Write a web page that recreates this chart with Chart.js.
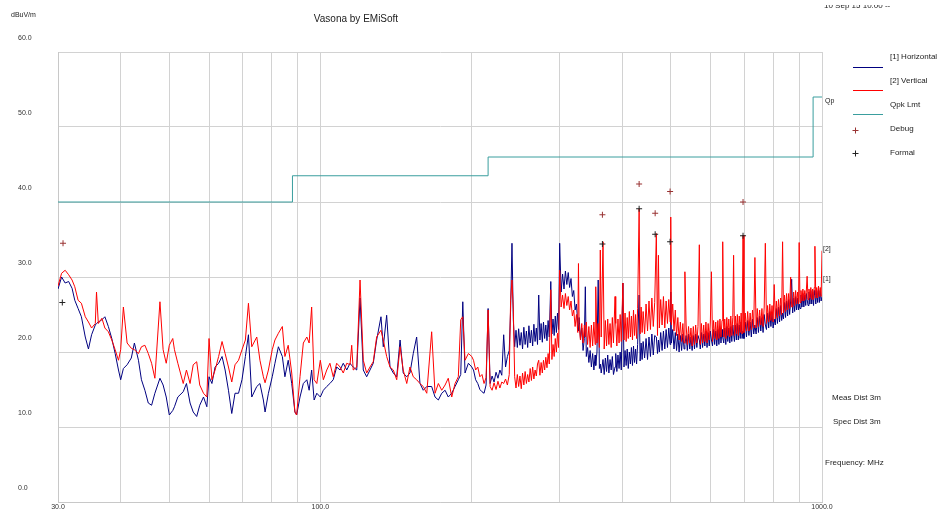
<!DOCTYPE html>
<html>
<head>
<meta charset="utf-8">
<title>Vasona by EMiSoft</title>
<script src="https://cdn.jsdelivr.net/npm/chart.js@4.4.0/dist/chart.umd.min.js"></script>
<style>
  html, body { margin: 0; padding: 0; background: #fff; }
  #wrap { position: relative; width: 938px; height: 512px; }
</style>
</head>
<body>
<div id="wrap"><canvas id="chart" width="938" height="512"></canvas></div>
<script>
// scan data (MHz / dBuV/m)
const freqMHz = [
  30.0, 30.5, 31.0, 31.5, 32.0, 32.4, 32.9, 33.4, 34.0, 34.5,
  35.0, 35.6, 35.8, 36.1, 36.7, 37.2, 37.8, 38.4, 39.0, 39.6,
  40.0, 40.5, 41.2, 42.0, 42.6, 43.4, 44.0, 44.7, 45.4, 46.1,
  46.8, 47.9, 48.6, 49.3, 50.0, 50.8, 51.2, 52.0, 53.3, 54.1,
  55.0, 55.8, 56.7, 57.5, 58.5, 59.4, 60.0, 60.8, 61.7, 62.7,
  63.7, 64.6, 65.6, 66.6, 67.6, 68.7, 69.8, 70.9, 71.9, 73.0,
  74.7, 75.8, 77.0, 77.6, 78.8, 80.2, 81.2, 82.5, 84.0, 85.0,
  86.3, 87.7, 89.0, 89.7, 91.1, 92.5, 94.0, 95.0, 96.1, 97.2,
  98.4, 100.0, 101.4, 103.0, 104.5, 106.1, 107.8, 109.5, 111.1, 112.9,
  114.6, 115.5, 116.3, 118.2, 120.0, 121.8, 123.7, 125.6, 127.5, 129.5,
  132.1, 133.5, 135.6, 137.7, 139.8, 142.0, 144.2, 146.3, 148.7, 150.9,
  153.2, 155.6, 158.0, 160.4, 163.0, 166.7, 169.3, 171.9, 174.6, 177.3,
  179.9, 182.8, 185.6, 188.4, 190.5, 192.3, 194.3, 197.3, 200.4,
  202, 204, 206, 208, 210, 212, 214, 216, 218, 220,
  222, 224, 226, 228, 230, 232, 234, 236, 238, 239.5,
  241, 242.5,
  244, 245.5, 247, 248.5, 250, 251.5, 253, 254.5, 256, 257.5,
  259, 260.5, 262, 263.5, 265, 266.5, 268, 269.5, 271, 272.5,
  274, 275.5, 277, 278.5, 280, 281.5, 283, 284.5, 286, 288,
  289.5, 291, 292.5, 294, 295.5, 297, 298.5,
  300, 302, 304, 306, 308, 310, 312, 314, 316, 318,
  320, 322, 324, 326, 327, 328, 330, 332, 334, 336,
  337.5, 339, 341, 343, 345, 347, 349, 351, 353, 354,
  356, 358, 360, 361.5, 363, 366, 368, 370, 372, 374,
  376, 378, 380, 382, 384, 386.8, 388, 390, 392, 394,
  396, 398, 401, 403, 405, 407, 409, 411, 413, 415,
  417, 419, 421, 423, 425, 427, 429, 432, 434, 436,
  438, 440,
  443, 446, 449, 452, 455, 458, 461, 464, 467.5, 470,
  472, 474, 477, 480, 483, 486, 489, 492, 495, 498,
  499.5, 501, 504, 507, 510, 513, 516, 519, 522, 525,
  528, 531, 533, 536, 539, 542, 545, 548, 551, 554,
  557, 560, 563, 566, 569.5, 572, 575, 578, 581, 584,
  587, 590, 593, 596, 599, 602, 605, 608, 611, 614,
  617, 620, 623, 626, 629, 632, 634, 637, 640, 643,
  646, 649, 652, 655, 658, 661, 664, 666.5, 669, 672,
  675, 678, 681, 684, 687, 690, 693, 696, 699,
  703, 707, 711, 715, 719, 723, 727, 731, 735, 739,
  743, 747, 751, 755, 759, 763, 767, 771, 775, 779,
  783, 787, 791, 795, 799, 803, 807, 811, 815, 819,
  823, 827, 831, 834.5, 838, 842, 846, 850, 854, 858,
  862, 866, 870, 874, 878, 882, 886, 890, 894, 898,
  900.5, 904, 908, 912, 916, 920, 924, 928, 931, 934,
  938, 942, 946, 950, 954, 958, 962, 965, 968, 972,
  976, 980, 984, 988, 992, 996, 1000
];

const horizontalLevel = [
  28.4, 30.0, 29.2, 29.4, 28.5, 26.9, 25.8, 24.7, 22.0, 20.4,
  22.3, 23.6, 23.8, 24.0, 24.3, 24.7, 23.4, 21.8, 19.8, 17.6,
  16.3, 17.8, 18.3, 19.2, 21.2, 18.9, 16.3, 14.9, 13.2, 12.9,
  14.5, 16.5, 15.6, 14.0, 11.6, 12.2, 12.7, 14.0, 14.7, 15.8,
  13.2, 12.0, 11.4, 12.9, 14.0, 12.7, 16.7, 15.8, 18.0, 18.5,
  19.4, 17.6, 14.9, 11.8, 14.5, 14.5, 16.3, 19.4, 22.3, 14.0,
  15.4, 15.8, 13.6, 12.0, 14.5, 16.7, 18.5, 20.7, 19.4, 16.7,
  18.9, 15.8, 12.0, 11.6, 14.0, 15.8, 16.3, 14.9, 17.6, 13.6,
  14.5, 14.0, 14.9, 15.4, 15.8, 16.3, 18.0, 17.6, 18.5, 17.6,
  18.5, 18.2, 18.0, 17.6, 27.2, 17.6, 16.7, 17.6, 18.5, 21.6,
  24.7, 20.7, 24.9, 18.0, 17.2, 16.7, 21.6, 17.2, 16.7, 17.2,
  19.8, 22.0, 15.8, 14.9, 15.4, 15.4, 14.0, 13.6, 14.5, 14.9,
  14.0, 14.5, 15.4, 16.3, 17.0, 26.7, 17.2, 18.5, 18.0,
  17.6, 16.3, 15.8, 15.0, 14.7, 14.5, 15.6, 25.8, 15.8, 16.8,
  16.0, 17.3, 16.5, 17.6, 16.9, 22.3, 18.0, 19.4, 20.2, 25.6,
  34.5, 24.3,
  20.7, 22.9, 20.6, 23.1, 20.9, 22.6, 20.4, 23.3, 21.0, 22.8,
  20.6, 23.5, 21.2, 22.9, 20.8, 23.7, 21.4, 23.2, 21.0, 27.6,
  21.6, 23.8, 21.3, 24.0, 21.8, 23.6, 21.5, 24.2, 22.0, 29.4,
  22.4, 24.4, 22.2, 24.8, 22.6, 25.2, 23.0,
  34.5, 28.0, 30.4, 28.4, 30.8, 29.0, 30.6, 28.6, 29.8, 27.4,
  28.2, 25.6, 26.4, 23.8, 22.8, 24.6, 21.8, 23.2, 20.2, 21.8,
  28.7, 19.4, 20.6, 18.6, 20.2, 18.0, 19.8, 17.6, 19.6, 18.2,
  20.0, 29.6, 17.8, 18.4, 17.2, 19.0, 17.0, 19.2, 17.4, 19.6,
  17.2, 19.0, 17.6, 19.4, 17.0, 18.0, 19.8, 17.4, 19.6, 17.8,
  20.0, 17.6, 29.2, 18.0, 20.2, 18.2, 20.4, 17.8, 20.0, 18.4,
  20.6, 18.2, 20.8, 18.6, 20.4, 18.4, 21.0, 27.6, 18.8, 21.2,
  19.0, 21.4,
  19.2, 21.8, 19.0, 22.0, 19.4, 22.4, 19.6, 22.2, 22.0, 19.8,
  21.6, 20.0, 22.6, 20.2, 22.8, 20.4, 23.0, 20.6, 23.2, 21.0,
  28.0, 21.2, 23.0, 20.4, 22.6, 20.2, 22.4, 20.0, 22.2, 20.2,
  22.4, 20.4, 21.0, 22.2, 20.2, 22.4, 20.4, 22.0, 20.2, 22.2,
  20.4, 22.4, 20.6, 22.2, 21.6, 20.4, 22.6, 20.6, 22.4, 20.8,
  22.8, 20.6, 22.6, 20.8, 22.8, 21.6, 20.8, 23.0, 21.0, 22.8,
  20.8, 23.0, 21.0, 23.2, 21.2, 23.0, 22.0, 21.2, 23.2, 21.0,
  23.4, 21.4, 23.2, 21.2, 23.4, 21.4, 23.6, 22.4, 21.4, 23.6,
  21.6, 23.8, 21.6, 23.6, 21.8, 24.0, 21.8, 22.8, 21.8,
  24.0, 22.0, 24.2, 22.2, 24.0, 22.0, 24.4, 22.4, 23.6, 22.4,
  24.6, 22.6, 24.8, 22.8, 24.6, 22.6, 25.0, 23.6, 23.0, 25.2,
  23.2, 25.4, 23.4, 25.2, 23.2, 24.4, 23.6, 25.8, 23.8, 26.0,
  24.0, 26.2, 24.2, 25.2, 24.4, 26.6, 24.6, 26.8, 24.8, 27.0,
  25.0, 26.8, 29.7, 25.2, 27.2, 25.4, 27.4, 25.6, 27.2, 25.6,
  26.4, 25.8, 27.6, 26.0, 27.8, 26.0, 27.6, 26.2, 27.8, 27.0,
  26.2, 28.0, 26.4, 28.2, 26.4, 28.0, 26.2, 28.2, 27.6, 26.4,
  28.2, 26.6, 28.4, 26.6, 28.2, 26.8, 27.4
];

const verticalLevel = [
  28.8, 30.5, 30.9, 30.3, 29.6, 28.7, 26.9, 26.5, 24.7, 24.0,
  23.2, 23.8, 28.0, 23.8, 24.5, 23.2, 22.7, 21.6, 20.3, 18.9,
  20.3, 26.0, 21.2, 20.5, 20.3, 19.8, 20.7, 20.9, 19.8, 18.5,
  16.5, 26.7, 20.3, 18.5, 20.9, 21.8, 20.3, 18.5, 15.8, 17.6,
  15.8, 18.3, 18.7, 15.6, 14.5, 14.0, 21.8, 16.3, 17.6, 19.4,
  21.4, 19.8, 18.0, 16.0, 18.3, 18.9, 20.3, 21.6, 26.5, 20.7,
  22.0, 18.9, 16.7, 15.9, 17.6, 20.3, 21.6, 22.5, 23.4, 19.4,
  20.9, 17.2, 12.0, 11.6, 16.7, 21.2, 22.0, 21.2, 26.0, 16.3,
  15.8, 18.9, 16.3, 17.6, 18.5, 16.7, 18.5, 18.0, 17.2, 18.5,
  18.3, 20.9, 17.6, 18.0, 29.6, 18.9, 17.2, 18.0, 18.7, 22.0,
  22.9, 21.6, 19.4, 18.0, 17.6, 16.3, 20.7, 17.6, 15.8, 18.0,
  16.7, 16.3, 15.8, 15.4, 14.5, 22.7, 14.5, 15.8, 14.9, 15.6,
  16.5, 14.0, 15.8, 16.7, 24.3, 24.7, 18.9, 19.8, 19.4,
  18.9, 17.6, 18.0, 16.7, 17.0, 15.8, 16.6, 25.6, 15.4, 14.9,
  15.9, 15.0, 16.1, 15.2, 16.0, 15.8, 16.4, 15.6, 17.0, 26.9,
  29.6, 25.6,
  16.7, 15.2, 17.0, 15.4, 16.8, 15.1, 17.2, 15.6, 17.4, 15.8,
  17.0, 16.0, 17.8, 16.2, 18.0, 16.4, 17.6, 16.8, 18.4, 18.9,
  16.9, 18.6, 17.2, 18.9, 17.6, 19.3, 17.9, 19.8, 18.4, 28.3,
  19.0, 21.0, 19.4, 21.8, 20.0, 22.5, 20.6,
  30.9, 26.0, 27.6, 25.8, 27.8, 26.2, 27.4, 25.6, 26.8, 24.8,
  25.6, 23.4, 25.0, 22.6, 31.8, 23.8, 21.6, 23.8, 21.2, 23.6,
  22.0, 24.0, 21.0, 23.4, 20.6, 23.6, 20.8, 24.0, 21.0, 28.7,
  21.2, 23.8, 20.6, 33.6, 22.0, 34.7, 20.4, 24.2, 20.8, 24.4,
  21.0, 23.8, 20.6, 24.6, 21.2, 27.4, 23.8, 20.8, 24.4, 21.2,
  25.0, 21.4, 29.2, 21.6, 25.2, 21.4, 24.6, 21.8, 25.4, 22.0,
  24.8, 21.6, 25.6, 22.2, 25.0, 21.8, 25.8, 39.1, 22.4, 26.0,
  22.6, 25.4,
  22.4, 26.4, 22.8, 26.8, 23.0, 27.2, 23.4, 26.6, 35.8, 22.2,
  32.9, 23.2, 27.0, 23.6, 27.4, 23.2, 26.8, 23.8, 27.0, 24.0,
  38.0, 23.6, 26.4, 22.8, 25.6, 22.2, 24.6, 21.6, 24.0, 21.4,
  23.8, 21.2, 30.7, 23.6, 21.0, 23.4, 21.2, 23.2, 20.8, 23.4,
  21.0, 23.6, 21.2, 23.4, 34.3, 21.0, 23.8, 21.2, 23.6, 21.4,
  24.0, 21.2, 23.8, 21.6, 24.0, 30.7, 21.4, 24.2, 21.8, 24.0,
  21.6, 24.2, 21.8, 24.4, 22.0, 24.2, 34.7, 22.0, 24.4, 21.8,
  24.6, 22.2, 24.4, 22.0, 24.8, 22.2, 24.6, 32.9, 22.2, 24.8,
  22.4, 25.0, 22.2, 24.8, 22.6, 25.2, 22.4, 35.6, 22.6,
  25.2, 22.8, 25.4, 22.8, 25.2, 23.0, 25.6, 23.2, 32.6, 23.2,
  25.8, 23.4, 25.6, 23.6, 25.8, 23.4, 26.0, 34.5, 23.8, 26.2,
  24.0, 26.4, 24.2, 26.2, 24.0, 29.0, 24.4, 26.8, 24.6, 27.0,
  24.8, 27.2, 25.0, 34.7, 25.2, 27.6, 25.4, 27.8, 25.6, 27.8,
  25.8, 30.0, 26.0, 26.0, 28.0, 26.2, 28.2, 26.4, 28.0, 26.4,
  34.6, 26.6, 28.2, 26.8, 28.4, 26.8, 28.2, 27.0, 28.4, 30.1,
  27.0, 28.4, 27.2, 28.6, 27.0, 28.4, 27.0, 28.6, 34.1, 27.2,
  28.6, 27.2, 28.8, 27.4, 28.6, 27.4, 33.5
];

// quasi-peak limit, steps at 88 / 216 / 960 MHz
const limitFreq = [30, 88, 216, 960, 1000];
const limitLevel = [40, 43.5, 46, 54, 54];

const debugFreq = [30.7, 365, 432, 465, 498, 696];
const debugLevel = [34.5, 38.3, 42.4, 38.5, 41.4, 40.0];
const formalFreq = [30.6, 365, 432, 465, 498, 696];
const formalLevel = [26.6, 34.4, 39.1, 35.7, 34.7, 35.5];

const xGridFreq = [30, 40, 50, 60, 70, 80, 90, 100, 200, 300, 400, 500, 600, 700, 800, 900, 1000];
const xLabelFreq = [30, 100, 1000];

const chartTitle = 'Vasona by EMiSoft';
const unitLabel = 'dBuV/m';
const dateLabel = '10 Sep 15 10:00 --';
const legendLabels = ['[1] Horizontal', '[2] Vertical', 'Qpk Lmt', 'Debug', 'Formal'];
const sideNotes = ['Meas Dist 3m', 'Spec Dist 3m', 'Frequency: MHz'];

const NAVY = '#000080';
const RED = '#ff0000';
const TEAL = '#3a9e9e';
const DEBUG_COL = '#993333';
const FORMAL_COL = '#222222';
const FONT = '"Liberation Sans", Arial, sans-serif';

function toPoints(xs, ys) {
  return xs.map((x, i) => ({ x: x, y: ys[i] }));
}

function drawCross(ctx, x, y, r, color) {
  ctx.strokeStyle = color;
  ctx.lineWidth = 1;
  ctx.beginPath();
  ctx.moveTo(x - r, y); ctx.lineTo(x + r, y);
  ctx.moveTo(x, y - r); ctx.lineTo(x, y + r);
  ctx.stroke();
}

const annotations = {
  id: 'annotations',
  afterDraw(chart) {
    const ctx = chart.ctx;
    ctx.save();
    ctx.fillStyle = '#222';
    ctx.textBaseline = 'middle';

    ctx.font = '10px ' + FONT;
    ctx.textAlign = 'center';
    ctx.fillText(chartTitle, 356, 19);

    ctx.font = '7px ' + FONT;
    ctx.textAlign = 'left';
    ctx.fillText(unitLabel, 11, 15);

    // date line is cut off at the top edge in the original
    ctx.save();
    ctx.beginPath();
    ctx.rect(0, 5, 938, 20);
    ctx.clip();
    ctx.font = '8px ' + FONT;
    ctx.fillText(dateLabel, 824, 6);
    ctx.restore();

    // legend
    const textY = [57, 81, 105, 129, 153];
    const symY = [67, 90, 114, 130, 153];
    const lineCols = [NAVY, RED, TEAL];
    ctx.font = '8px ' + FONT;
    legendLabels.forEach((lbl, i) => {
      ctx.fillStyle = '#222';
      ctx.fillText(lbl, 890, textY[i]);
      if (i < 3) {
        ctx.strokeStyle = lineCols[i];
        ctx.lineWidth = 1;
        ctx.beginPath();
        ctx.moveTo(853, symY[i] + 0.5);
        ctx.lineTo(883, symY[i] + 0.5);
        ctx.stroke();
      } else {
        drawCross(ctx, 855.5, symY[i] + 0.5, 3, i === 3 ? DEBUG_COL : FORMAL_COL);
      }
    });

    // trace tags on the right edge
    ctx.fillStyle = '#222';
    ctx.font = '7px ' + FONT;
    ctx.fillText('Qp', 825, 101);
    ctx.fillText('[2]', 823, 249);
    ctx.fillText('[1]', 823, 279);

    ctx.font = '8px ' + FONT;
    ctx.fillText(sideNotes[0], 832, 398);
    ctx.fillText(sideNotes[1], 833, 422);
    ctx.fillText(sideNotes[2], 825, 463);
    ctx.restore();
  }
};

const ctx = document.getElementById('chart').getContext('2d');
new Chart(ctx, {
  type: 'line',
  data: {
    datasets: [
      {
        label: 'Qpk Lmt',
        data: toPoints(limitFreq, limitLevel),
        borderColor: TEAL,
        borderWidth: 1,
        pointRadius: 0,
        stepped: 'before',
        order: 0
      },
      {
        label: 'Debug',
        data: toPoints(debugFreq, debugLevel),
        showLine: false,
        pointStyle: 'cross',
        pointRadius: 3,
        pointBorderWidth: 1,
        pointBorderColor: DEBUG_COL,
        borderColor: DEBUG_COL,
        order: 0
      },
      {
        label: 'Formal',
        data: toPoints(formalFreq, formalLevel),
        showLine: false,
        pointStyle: 'cross',
        pointRadius: 3,
        pointBorderWidth: 1,
        pointBorderColor: FORMAL_COL,
        borderColor: FORMAL_COL,
        order: 0
      },
      {
        label: '[2] Vertical',
        data: toPoints(freqMHz, verticalLevel),
        borderColor: RED,
        borderWidth: 1,
        pointRadius: 0,
        tension: 0,
        order: 1
      },
      {
        label: '[1] Horizontal',
        data: toPoints(freqMHz, horizontalLevel),
        borderColor: NAVY,
        borderWidth: 1,
        pointRadius: 0,
        tension: 0,
        order: 2
      }
    ]
  },
  options: {
    responsive: false,
    animation: false,
    devicePixelRatio: 1,
    layout: { padding: { left: 18, top: 52, right: 116, bottom: 0 } },
    plugins: {
      legend: { display: false },
      tooltip: { enabled: false }
    },
    scales: {
      x: {
        type: 'logarithmic',
        min: 30,
        max: 1000,
        afterBuildTicks: (scale) => {
          scale.ticks = xGridFreq.map(v => ({ value: v }));
        },
        afterFit: (scale) => { scale.height = 10; },
        ticks: {
          autoSkip: false,
          maxRotation: 0,
          padding: 1,
          color: '#333',
          font: { size: 7, family: FONT },
          callback: (v) => xLabelFreq.includes(v) ? Number(v).toFixed(1) : ''
        },
        grid: { color: '#d2d2d2', drawTicks: false },
        border: { color: '#c8c8c8' }
      },
      y: {
        min: 0,
        max: 60,
        afterFit: (scale) => { scale.width = 40; },
        ticks: {
          stepSize: 10,
          labelOffset: -14,
          crossAlign: 'far',
          padding: 0,
          color: '#333',
          font: { size: 7, family: FONT },
          callback: (v) => Number(v).toFixed(1)
        },
        grid: { color: '#d2d2d2', drawTicks: false },
        border: { color: '#c8c8c8' }
      }
    }
  },
  plugins: [annotations]
});
</script>
</body>
</html>
